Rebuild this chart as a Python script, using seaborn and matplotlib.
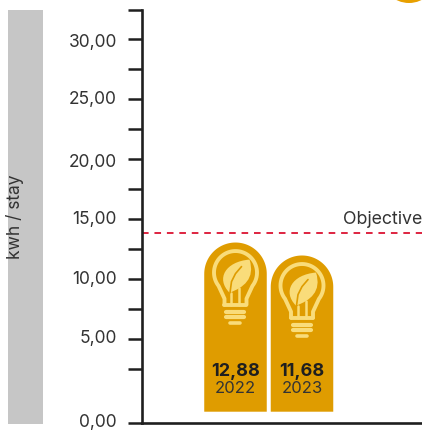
"""Energy use per stay against the objective, drawn as bulb-topped bars."""

import matplotlib.pyplot as plt
import numpy as np
import seaborn as sns
from matplotlib.patches import Circle, PathPatch, Polygon, Rectangle
from matplotlib.path import Path
from matplotlib.transforms import Affine2D

years = ["2022", "2023"]
value_labels = ["12,88", "11,68"]
# bar tops as they sit against the printed scale
bar_tops = [13.05, 11.97]
objective = 13.85
tick_values = [-1.97, 2.5, 5, 7.5, 10, 12.5, 15, 17.5, 20, 22.5, 25, 27.5, 30, 32.4]
tick_labels = ["0,00", "", "5,00", "", "10,00", "", "15,00", "", "20,00", "", "25,00", "", "30,00", ""]
# the printed labels sit a little off their ticks
label_nudge = [2, 0, 3, 0, 2, 0, 2, 0, -1, 0, 1, 0, -2, 0]

GOLD = "#DF9C00"
PALE = "#F9DC7A"
INK = "#333333"
WIDTH, HEIGHT = 422, 430
PX_PER_CAT = 66.5
PX_PER_UNIT = 11.98
BAR_FLOOR = -1.03

sns.set_style("white")
plt.rcParams["font.family"] = ["Inter", "DejaVu Sans"]

fig = plt.figure(figsize=(WIDTH / 100, HEIGHT / 100), dpi=100, facecolor="white")
ax = fig.add_axes([142 / WIDTH, (HEIGHT - 423) / HEIGHT, 280 / WIDTH, 413 / HEIGHT])
ax.patch.set_alpha(0)

sns.barplot(x=years, y=bar_tops, color=GOLD, saturation=1, width=0.94, ax=ax)
ax.set_xlim(-1.406, -1.406 + 280 / PX_PER_CAT)
ax.set_ylim(tick_values[0], tick_values[-1])


def to_data(cx, top, dx, dy):
    """Pixel offsets (y down) from a bar's top centre, in data units."""
    return cx + np.asarray(dx) / PX_PER_CAT, top - np.asarray(dy) / PX_PER_UNIT


def draw_bulb(cx, top):
    cy = 30  # bulb centre below the bar top
    lw = 2.8

    def line(dx, dy, **kws):
        xs, ys = to_data(cx, top, dx, np.asarray(dy) + cy)
        ax.plot(xs, ys, color=PALE, solid_capstyle="round", solid_joinstyle="round", zorder=3, **kws)

    angles = np.radians(np.linspace(218, -38, 60))
    dx = np.r_[-11, -11, 21.5 * np.cos(angles), 11, 11]
    dy = np.r_[32, 26, -21.5 * np.sin(angles), 26, 32]
    line(dx, dy, lw=lw)
    line([-11, 11], [32, 32], lw=lw)
    line([-4, -4], [20, 32], lw=1.8)
    line([4, 4], [15, 32], lw=1.8)
    line([-9, 9], [39, 39], lw=3)
    line([-9, 9], [44.5, 44.5], lw=3)
    line([-5, 5], [50, 50], lw=2.6)

    # leaf, then its rib in the bar colour
    verts = [(-6, 20), (-20, 6), (-10, -11), (14, -13), (20, 6), (8, 15), (-6, 20), (-6, 20)]
    codes = [Path.MOVETO, Path.CURVE4, Path.CURVE4, Path.CURVE4, Path.CURVE4, Path.CURVE4, Path.CURVE4, Path.CLOSEPOLY]
    xs, ys = to_data(cx, top, [v[0] for v in verts], np.array([v[1] for v in verts]) + cy)
    ax.add_patch(PathPatch(Path(np.c_[xs, ys], codes), facecolor=PALE, edgecolor="none", zorder=3))
    xs, ys = to_data(cx, top, [-5.5, -4, 0, 6], np.array([20, 9, 1, -6]) + cy)
    ax.plot(xs, ys, color=GOLD, lw=1.2, zorder=4)


# swap seaborn's plain rectangles for arched ones reaching the bar floor
for i, (bar, top) in enumerate(zip(list(ax.patches), bar_tops)):
    cx = bar.get_x() + bar.get_width() / 2
    half_cat = bar.get_width() / 2
    radius_px = half_cat * PX_PER_CAT
    theta = np.linspace(0, np.pi, 60)
    arch_y = top - radius_px / PX_PER_UNIT + radius_px * np.sin(theta) / PX_PER_UNIT
    arch_x = cx + half_cat * np.cos(theta)
    outline = np.c_[np.r_[cx + half_cat, arch_x, cx - half_cat], np.r_[BAR_FLOOR, arch_y, BAR_FLOOR]]
    bar.set_visible(False)
    ax.add_patch(Polygon(outline, closed=True, facecolor=GOLD, edgecolor="none", zorder=2))
    draw_bulb(cx, top)
    ax.text(cx, 2.35, value_labels[i], ha="center", va="center", fontsize=13, fontweight="bold", color="#1F1F1F", zorder=5)
    ax.text(cx, 0.88, years[i], ha="center", va="center", fontsize=12, color=INK, zorder=5)

ax.axhline(objective, color="#DE2440", lw=1.4, dashes=(3.4, 3), zorder=1)
ax.text(1, objective + 0.42, "Objective", transform=ax.get_yaxis_transform(), ha="right", va="bottom", fontsize=12.8, color=INK)

ax.set_yticks(tick_values, tick_labels)
ax.set_xticks([])
ax.tick_params(axis="y", length=10, width=1.8, color="#1F1F1F", pad=8, labelsize=12.5, labelcolor=INK, left=True)
for label, nudge in zip(ax.get_yticklabels(), label_nudge):
    label.set_transform(label.get_transform() + Affine2D().translate(0, nudge))
sns.despine(ax=ax, top=True, right=True)
for side in ("left", "bottom"):
    ax.spines[side].set_color("#1F1F1F")
    ax.spines[side].set_linewidth(1.9)

ax.set_ylabel("kwh / stay", fontsize=12.5, color=INK)
ax.yaxis.set_label_coords((24 - 142) / 280, 0.499)

# grey band behind the axis title and the sliver of a badge in the corner
to_px = Affine2D().scale(1, -1).translate(0, HEIGHT)
fig.add_artist(Rectangle((8, 10), 35, 414, transform=to_px, facecolor="#C6C6C6", edgecolor="none", zorder=-1))
fig.add_artist(Circle((409, -25), 28, transform=to_px, facecolor="#E8A000", edgecolor="none"))

fig.savefig("out.png", dpi=100, facecolor="white")
